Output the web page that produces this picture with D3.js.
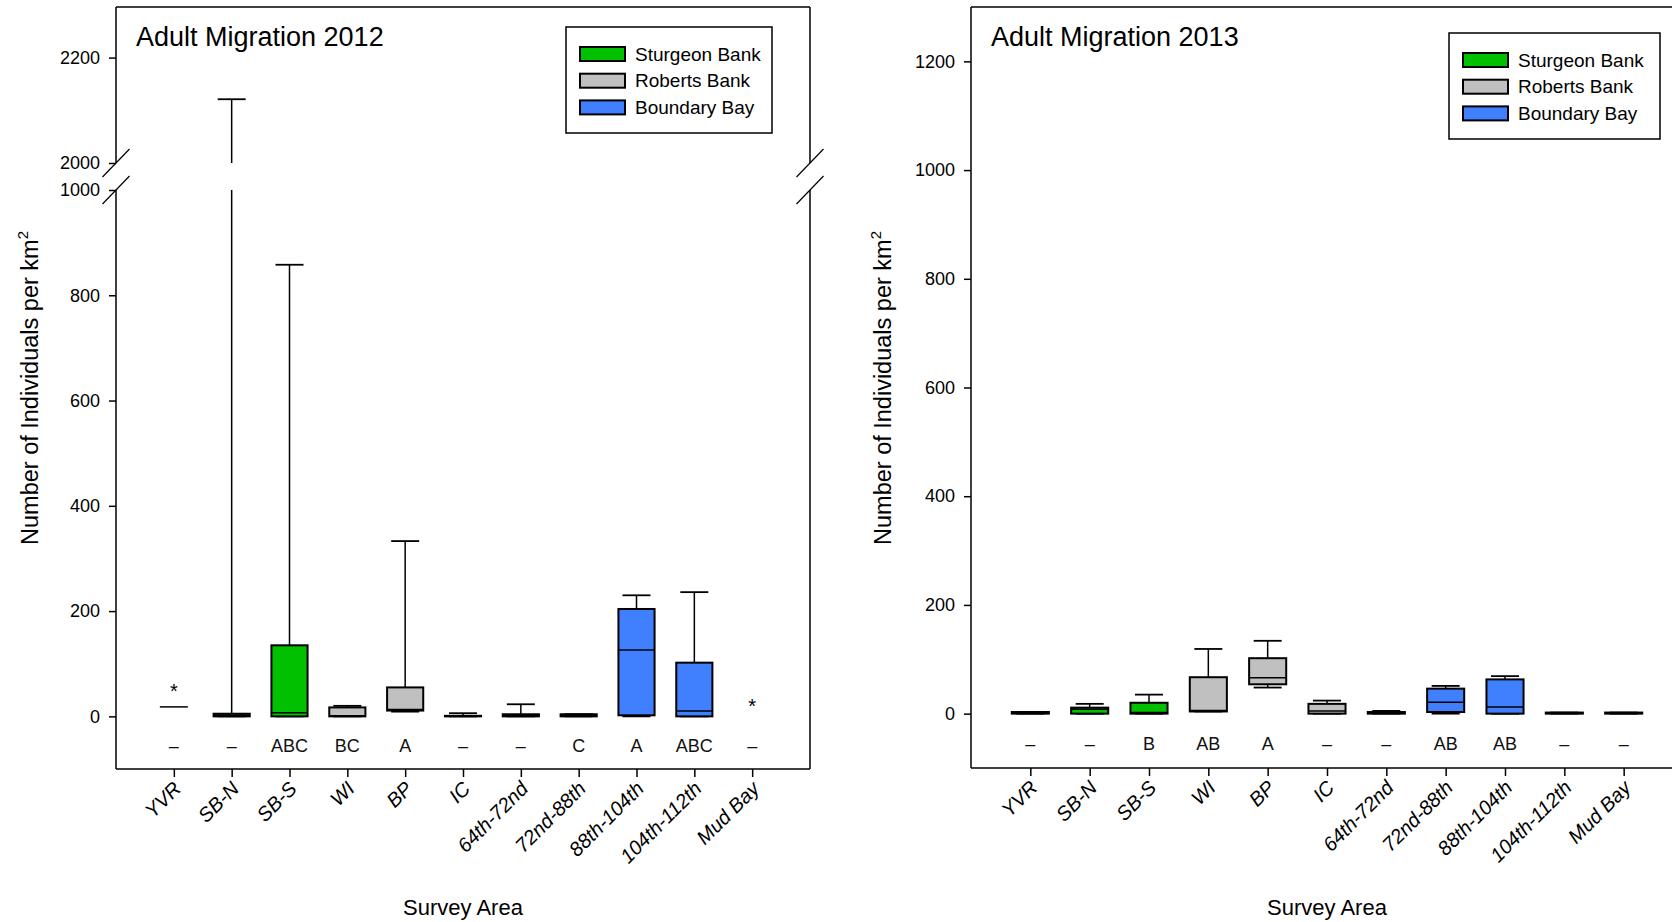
<!DOCTYPE html>
<html>
<head>
<meta charset="utf-8">
<script src="https://cdn.jsdelivr.net/npm/d3@7"></script>
<style>
  body { margin: 0; background: #fff; }
  svg { display: block; font-family: Arial, "Liberation Sans", sans-serif; }
</style>
</head>
<body>
<svg id="chart" width="1672" height="922"></svg>
<script>
// survey areas and the region each one belongs to
const categories = ["YVR", "SB-N", "SB-S", "WI", "BP", "IC", "64th-72nd", "72nd-88th", "88th-104th", "104th-112th", "Mud Bay"];
const regions = ["Sturgeon Bank", "Sturgeon Bank", "Sturgeon Bank", "Roberts Bank", "Roberts Bank", "Roberts Bank",
                 "Boundary Bay", "Boundary Bay", "Boundary Bay", "Boundary Bay", "Boundary Bay"];
const legendNames = ["Sturgeon Bank", "Roberts Bank", "Boundary Bay"];
const legendColors = ["#00c000", "#c0c0c0", "#4080ff"];

// 2012 box stats (null = not drawn)
const min2012 = [null, 0, 0, 0, 9, 0, 0, 0, 0, 0, null];
const q1_2012 = [null, 0, 0, 0, 11, 0, 0, 0, 2, 0, null];
const med2012 = [18, 2, 7, 1, 13, 0, 1, 2, 126, 10, null];
const q3_2012 = [null, 5, 135, 17, 55, 1, 4, 4, 204, 102, null];
const max2012 = [null, 2121, 858, 20, 333, 6, 23, 4, 230, 236, null];
const star2012 = [56, null, null, null, null, null, null, null, null, null, 28];
const letters2012 = ["–", "–", "ABC", "BC", "A", "–", "–", "C", "A", "ABC", "–"];

// 2013 box stats
const min2013 = [0, 0, 0, 4, 48, 0, 0, 0, 0, 0, 0];
const q1_2013 = [0, 0, 0, 4, 54, 0, 0, 3, 0, 0, 0];
const med2013 = [1, 8, 2, 6, 66, 5, 2, 21, 12, 1, 1];
const q3_2013 = [3, 11, 20, 67, 102, 18, 3, 46, 63, 2, 2];
const max2013 = [3, 18, 35, 119, 134, 24, 5, 51, 69, 2, 2];
const star2013 = [null, null, null, null, null, null, null, null, null, null, null];
const letters2013 = ["–", "–", "B", "AB", "A", "–", "–", "AB", "AB", "–", "–"];

const ticks2012Low = [0, 200, 400, 600, 800, 1000];
const ticks2012High = [2000, 2200];
const ticks2013 = [0, 200, 400, 600, 800, 1000, 1200];

const svg = d3.select("#chart");
const color = d3.scaleOrdinal().domain(legendNames).range(legendColors);

function drawPanel(cfg) {
  const g = svg.append("g");
  const x = d3.scalePoint().domain(categories).range([cfg.left, cfg.right]).padding(1);
  const boxW = x.step() * 0.625;
  const capW = 28;

  const rows = categories.map((c, i) => ({
    name: c, region: regions[i],
    min: cfg.min[i], q1: cfg.q1[i], med: cfg.med[i], q3: cfg.q3[i], max: cfg.max[i],
    star: cfg.star[i], letter: cfg.letters[i]
  }));

  cfg.segments.forEach((seg, si) => {
    const y = d3.scaleLinear().domain(seg.domain).range(seg.range);
    const clipId = cfg.id + "-clip-" + si;
    g.append("clipPath").attr("id", clipId)
      .append("rect")
      .attr("x", cfg.left).attr("y", seg.range[1])
      .attr("width", cfg.right - cfg.left).attr("height", seg.range[0] - seg.range[1]);

    const marks = g.append("g").attr("clip-path", `url(#${clipId})`);
    const boxed = rows.filter(d => d.q1 != null);

    // whiskers
    marks.selectAll(".wh").data(boxed).enter().append("line")
      .attr("x1", d => x(d.name)).attr("x2", d => x(d.name))
      .attr("y1", d => y(d.q3)).attr("y2", d => y(d.max))
      .attr("stroke", "#000").attr("stroke-width", 1.5);
    marks.selectAll(".wl").data(boxed).enter().append("line")
      .attr("x1", d => x(d.name)).attr("x2", d => x(d.name))
      .attr("y1", d => y(d.q1)).attr("y2", d => y(d.min))
      .attr("stroke", "#000").attr("stroke-width", 1.5);
    marks.selectAll(".cap-hi").data(boxed).enter().append("line")
      .attr("x1", d => x(d.name) - capW / 2).attr("x2", d => x(d.name) + capW / 2)
      .attr("y1", d => y(d.max)).attr("y2", d => y(d.max))
      .attr("stroke", "#000").attr("stroke-width", 1.8);
    marks.selectAll(".cap-lo").data(boxed).enter().append("line")
      .attr("x1", d => x(d.name) - capW / 2).attr("x2", d => x(d.name) + capW / 2)
      .attr("y1", d => y(d.min)).attr("y2", d => y(d.min))
      .attr("stroke", "#000").attr("stroke-width", 1.8);

    // boxes
    marks.selectAll(".box").data(boxed).enter().append("rect")
      .attr("x", d => x(d.name) - boxW / 2)
      .attr("width", boxW)
      .attr("y", d => y(d.q3))
      .attr("height", d => Math.max(0, y(d.q1) - y(d.q3)))
      .attr("fill", d => color(d.region))
      .attr("stroke", "#000").attr("stroke-width", 2);

    // medians
    marks.selectAll(".med").data(boxed).enter().append("line")
      .attr("x1", d => x(d.name) - boxW / 2).attr("x2", d => x(d.name) + boxW / 2)
      .attr("y1", d => y(d.med)).attr("y2", d => y(d.med))
      .attr("stroke", "#000").attr("stroke-width", 1.5);

    // single value with no box
    marks.selectAll(".single").data(rows.filter(d => d.q1 == null && d.med != null)).enter().append("line")
      .attr("x1", d => x(d.name) - capW / 2).attr("x2", d => x(d.name) + capW / 2)
      .attr("y1", d => y(d.med)).attr("y2", d => y(d.med))
      .attr("stroke", "#000").attr("stroke-width", 1.5);

    // y axis
    const ax = g.append("g")
      .attr("transform", `translate(${cfg.left},0)`)
      .call(d3.axisLeft(y).tickValues(seg.ticks).tickFormat(d3.format("d"))
        .tickSize(7).tickPadding(9).tickSizeOuter(0));
    ax.select(".domain").remove();
    ax.selectAll("line").attr("stroke", "#000").attr("stroke-width", 1.5);
    ax.selectAll("text").attr("font-size", 18).attr("font-family", "Arial, 'Liberation Sans', sans-serif").attr("fill", "#000");

    if (seg.main) {
      // significance letters and asterisks
      g.selectAll(".letter").data(rows).enter().append("text")
        .attr("x", d => x(d.name)).attr("y", y(-55))
        .attr("dy", "0.36em")
        .attr("text-anchor", "middle")
        .attr("font-family", "'Liberation Sans Narrow', 'Arial Narrow', Arial, sans-serif")
        .attr("font-size", 18)
        .attr("fill", "#111")
        .text(d => d.letter);
      g.selectAll(".star").data(rows.filter(d => d.star != null)).enter().append("text")
        .attr("x", d => x(d.name)).attr("y", d => y(d.star))
        .attr("dy", "0.57em")
        .attr("text-anchor", "middle")
        .attr("font-size", 20)
        .text("*");
    }
  });

  // frame
  const frame = g.append("g").attr("stroke", "#000").attr("stroke-width", 1.5).attr("fill", "none");
  frame.append("line").attr("x1", cfg.left).attr("x2", cfg.right).attr("y1", cfg.top).attr("y2", cfg.top);
  frame.append("line").attr("x1", cfg.left).attr("x2", cfg.right).attr("y1", cfg.bottom).attr("y2", cfg.bottom);
  [cfg.left, cfg.right].forEach(sx => {
    if (cfg.breakAt) {
      frame.append("line").attr("x1", sx).attr("x2", sx).attr("y1", cfg.top).attr("y2", cfg.breakAt[0]);
      frame.append("line").attr("x1", sx).attr("x2", sx).attr("y1", cfg.breakAt[1]).attr("y2", cfg.bottom);
      cfg.breakAt.forEach(by => {
        frame.append("line")
          .attr("x1", sx - 13.5).attr("y1", by + 14)
          .attr("x2", sx + 13.5).attr("y2", by - 14)
          .attr("stroke-width", 1.2);
      });
    } else {
      frame.append("line").attr("x1", sx).attr("x2", sx).attr("y1", cfg.top).attr("y2", cfg.bottom);
    }
  });

  // x axis
  const xa = g.append("g")
    .attr("transform", `translate(0,${cfg.bottom})`)
    .call(d3.axisBottom(x).tickSize(8).tickSizeOuter(0));
  xa.select(".domain").remove();
  xa.selectAll("line").attr("stroke", "#000").attr("stroke-width", 1.5);
  xa.selectAll("text")
    .attr("font-size", 20)
    .attr("font-family", "Arial, 'Liberation Sans', sans-serif")
    .attr("font-style", "italic")
    .attr("fill", "#000")
    .attr("x", 0).attr("y", 0).attr("dy", 0)
    .attr("text-anchor", "end")
    .attr("transform", "translate(8,21) rotate(-45)");

  // titles
  g.append("text")
    .attr("x", cfg.left + 20).attr("y", cfg.top + 39)
    .attr("font-size", 27)
    .text(cfg.title);
  g.append("text")
    .attr("transform", `translate(${cfg.yLabelX},388) rotate(-90)`)
    .attr("text-anchor", "middle")
    .attr("dy", "0.35em")
    .attr("font-size", 23.5)
    .call(t => {
      t.append("tspan").text("Number of Individuals per km");
      t.append("tspan").attr("font-size", 15).attr("dy", "-0.7em").text("2");
    });
  g.append("text")
    .attr("x", (cfg.left + cfg.right) / 2).attr("y", 915)
    .attr("text-anchor", "middle")
    .attr("font-size", 22)
    .text("Survey Area");

  // legend
  const lg = g.append("g").attr("transform", `translate(${cfg.legend[0]},${cfg.legend[1]})`);
  lg.append("rect").attr("width", cfg.legend[2]).attr("height", 106)
    .attr("fill", "#fff").attr("stroke", "#000").attr("stroke-width", 1.5);
  const items = lg.selectAll(".item").data(legendNames).enter().append("g")
    .attr("transform", (d, i) => `translate(14,${27 + i * 26.7})`);
  items.append("rect").attr("x", 0).attr("y", -7).attr("width", 45).attr("height", 14)
    .attr("fill", d => color(d)).attr("stroke", "#000").attr("stroke-width", 2);
  items.append("text").attr("x", 55).attr("dy", "0.35em").attr("font-size", 19).text(d => d);
}

drawPanel({
  id: "p2012", title: "Adult Migration 2012",
  left: 116, right: 810, top: 7, bottom: 769,
  breakAt: [163, 190],
  segments: [
    { domain: [-100, 1000], range: [769, 190], ticks: ticks2012Low, main: true },
    { domain: [2000, 2296], range: [163, 7], ticks: ticks2012High }
  ],
  min: min2012, q1: q1_2012, med: med2012, q3: q3_2012, max: max2012,
  star: star2012, letters: letters2012,
  yLabelX: 30, legend: [566, 27, 206]
});

drawPanel({
  id: "p2013", title: "Adult Migration 2013",
  left: 971, right: 1683, top: 7, bottom: 768,
  breakAt: null,
  segments: [
    { domain: [-100, 1300], range: [768, 7], ticks: ticks2013, main: true }
  ],
  min: min2013, q1: q1_2013, med: med2013, q3: q3_2013, max: max2013,
  star: star2013, letters: letters2013,
  yLabelX: 883, legend: [1449, 33, 211]
});
</script>
</body>
</html>
